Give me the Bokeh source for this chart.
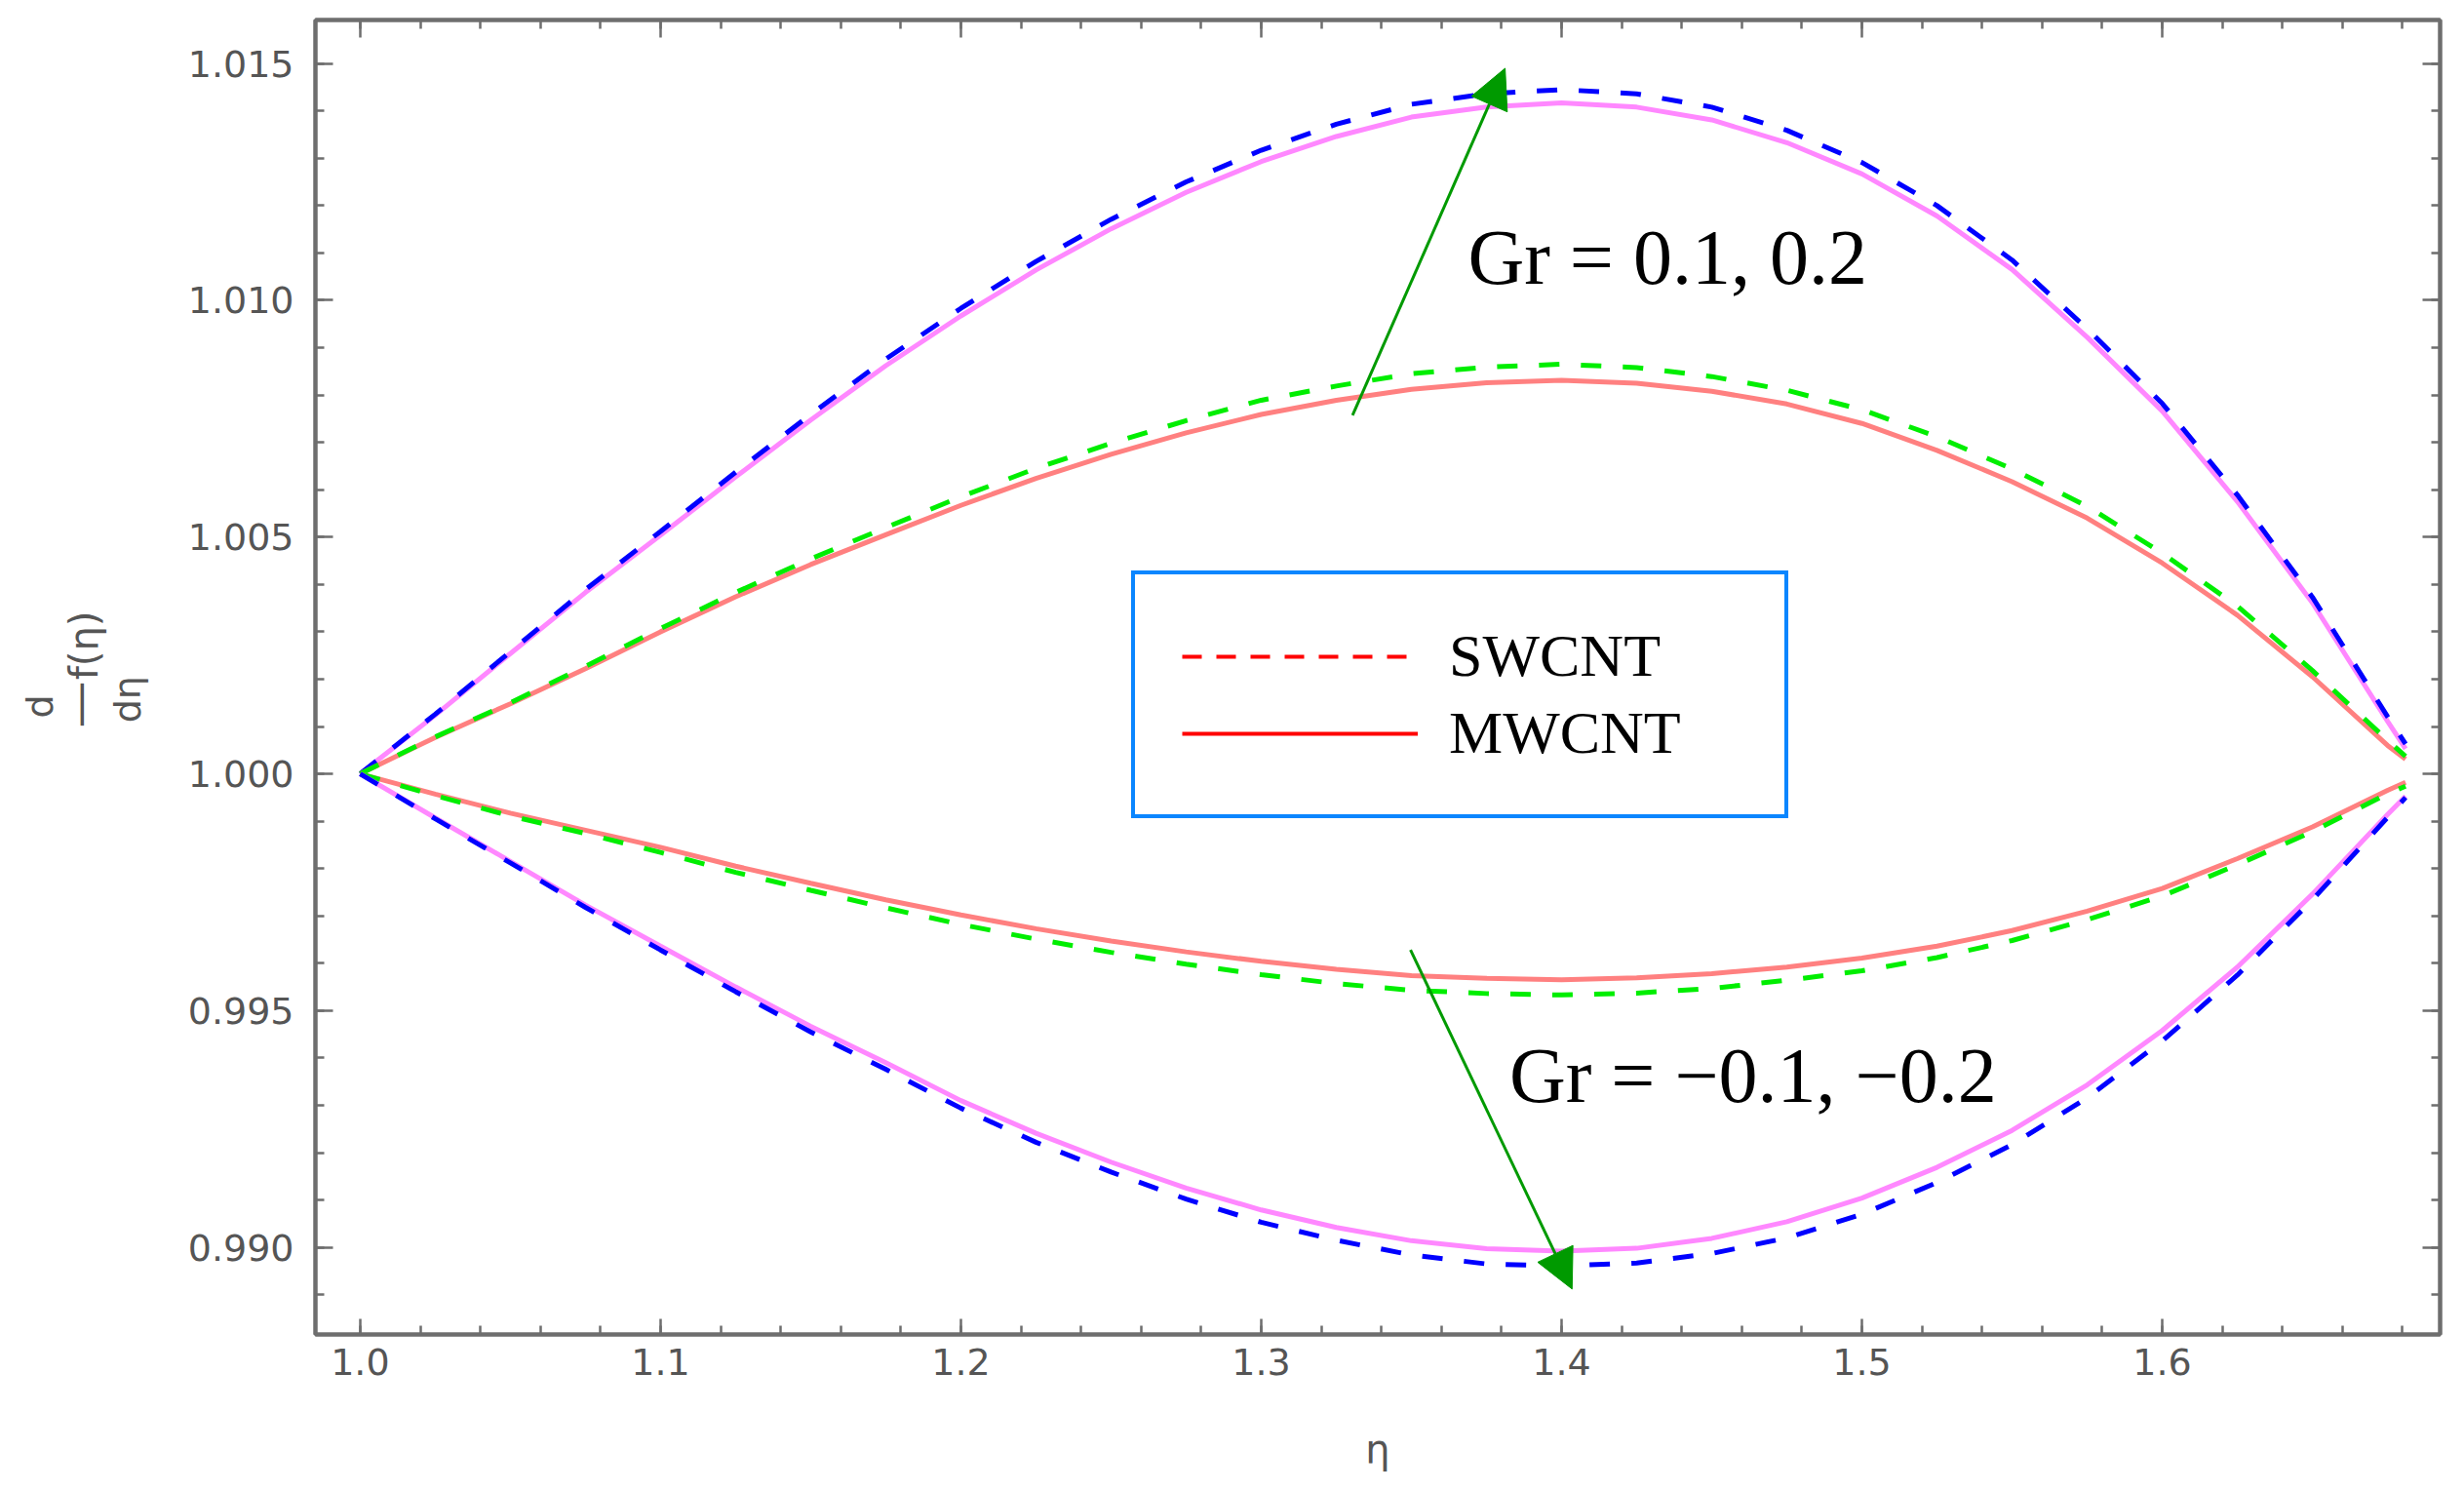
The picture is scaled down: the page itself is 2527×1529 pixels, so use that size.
from bokeh.plotting import figure
from bokeh.layouts import row
from bokeh.models import (Range1d, SingleIntervalTicker, PrintfTickFormatter, LinearAxis,
                          Label, Arrow, NormalHead, Legend, LegendItem, CustomJSTickFormatter)
from bokeh.embed import file_html
from bokeh.resources import INLINE

# ---------------- data ----------------
eta = [1.000, 1.025, 1.050, 1.075, 1.100, 1.125, 1.150, 1.175, 1.200, 1.225,
       1.250, 1.275, 1.300, 1.325, 1.350, 1.375, 1.400, 1.425, 1.450, 1.475,
       1.500, 1.525, 1.550, 1.575, 1.600, 1.625, 1.650, 1.675, 1.681]

# Gr = 0.2 (outer upper)
swcnt_gr_p02 = [1.00000, 1.00126, 1.00258, 1.00389, 1.00512, 1.00637, 1.00759, 1.00876, 1.00983, 1.01082,
                1.01171, 1.01250, 1.01317, 1.01372, 1.01414, 1.01436, 1.01445, 1.01436, 1.01408, 1.01359,
                1.01291, 1.01200, 1.01085, 1.00940, 1.00782, 1.00589, 1.00373, 1.00121, 1.00063]
mwcnt_gr_p02 = [1.00000, 1.00124, 1.00254, 1.00383, 1.00504, 1.00627, 1.00747, 1.00862, 1.00967, 1.01064,
                1.01151, 1.01228, 1.01293, 1.01346, 1.01387, 1.01408, 1.01417, 1.01408, 1.01381, 1.01333,
                1.01267, 1.01178, 1.01065, 1.00922, 1.00766, 1.00575, 1.00361, 1.00111, 1.00053]
# Gr = 0.1 (inner upper)
swcnt_gr_p01 = [1.00000, 1.00078, 1.00150, 1.00227, 1.00307, 1.00383, 1.00454, 1.00520, 1.00585, 1.00645,
                1.00698, 1.00746, 1.00789, 1.00819, 1.00845, 1.00859, 1.00865, 1.00858, 1.00839, 1.00810,
                1.00769, 1.00712, 1.00644, 1.00565, 1.00466, 1.00354, 1.00218, 1.00071, 1.00037]
mwcnt_gr_p01 = [1.00000, 1.00077, 1.00148, 1.00222, 1.00300, 1.00374, 1.00442, 1.00505, 1.00567, 1.00624,
                1.00675, 1.00720, 1.00759, 1.00789, 1.00812, 1.00826, 1.00831, 1.00825, 1.00808, 1.00781,
                1.00740, 1.00683, 1.00617, 1.00540, 1.00445, 1.00335, 1.00205, 1.00060, 1.00031]
# Gr = -0.1 (inner lower)
swcnt_gr_m01 = [1.00000, 0.99954, 0.99911, 0.99874, 0.99834, 0.99792, 0.99754, 0.99717, 0.99682, 0.99651,
                0.99623, 0.99598, 0.99576, 0.99557, 0.99543, 0.99536, 0.99533, 0.99537, 0.99547, 0.99564,
                0.99584, 0.99612, 0.99648, 0.99692, 0.99742, 0.99808, 0.99878, 0.99958, 0.99974]
mwcnt_gr_m01 = [1.00000, 0.99957, 0.99917, 0.99881, 0.99845, 0.99805, 0.99769, 0.99734, 0.99702, 0.99673,
                0.99647, 0.99624, 0.99604, 0.99587, 0.99574, 0.99568, 0.99565, 0.99569, 0.99578, 0.99592,
                0.99611, 0.99636, 0.99669, 0.99710, 0.99758, 0.99821, 0.99888, 0.99965, 0.99982]
# Gr = -0.2 (outer lower)
swcnt_gr_m02 = [1.00000, 0.99905, 0.99812, 0.99718, 0.99628, 0.99540, 0.99455, 0.99376, 0.99294, 0.99222,
                0.99159, 0.99102, 0.99053, 0.99015, 0.98984, 0.98965, 0.98961, 0.98967, 0.98987, 0.99020,
                0.99070, 0.99137, 0.99217, 0.99316, 0.99436, 0.99575, 0.99734, 0.99908, 0.99950]
mwcnt_gr_m02 = [1.00000, 0.99907, 0.99815, 0.99723, 0.99636, 0.99550, 0.99467, 0.99390, 0.99310, 0.99241,
                0.99180, 0.99125, 0.99079, 0.99042, 0.99014, 0.98997, 0.98992, 0.98998, 0.99019, 0.99054,
                0.99104, 0.99169, 0.99247, 0.99343, 0.99458, 0.99592, 0.99746, 0.99914, 0.99953]

legend_labels = ["SWCNT", "MWCNT"]
annot_texts = ["Gr = 0.1, 0.2", "Gr = \u22120.1, \u22120.2"]
annot_x = [1.3688, 1.3826]
annot_y = [1.01090, 0.99362]
arrow_start = [(1.3304, 1.00757), (1.3497, 0.99628)]
arrow_end = [(1.3812, 1.01490), (1.4035, 0.98912)]

# ---------------- styling ----------------
FRAME = "#6e6e6e"
TICKTXT = "#555555"
BLUE = "#0000ff"
MAGENTA = "#ff88ff"
GREEN = "#00ee00"
SALMON = "#ff8080"
ARROW = "#009a00"

LEFT_W = 180
p = figure(width=2511 - LEFT_W, height=1513,
           x_range=Range1d(0.9851, 1.6925), y_range=Range1d(0.98816, 1.01592),
           output_backend="svg", toolbar_location=None,
           min_border_left=323 - LEFT_W, min_border_right=9, min_border_top=20, min_border_bottom=145,
           background_fill_color="white", border_fill_color="white")
p.xgrid.grid_line_color = None
p.ygrid.grid_line_color = None
p.outline_line_color = FRAME
p.outline_line_width = 4
p.outline_line_alpha = 1

p.xaxis.ticker = SingleIntervalTicker(interval=0.1, num_minor_ticks=5)
p.yaxis.ticker = SingleIntervalTicker(interval=0.005, num_minor_ticks=5)
p.xaxis.formatter = PrintfTickFormatter(format="%.1f")
p.yaxis.formatter = PrintfTickFormatter(format="%.3f")

def style_axis(ax, major_len, minor_len):
    ax.axis_line_color = FRAME
    ax.axis_line_width = 4
    ax.major_tick_in = major_len
    ax.major_tick_out = 0
    ax.minor_tick_in = minor_len
    ax.minor_tick_out = 0
    ax.major_tick_line_color = FRAME
    ax.minor_tick_line_color = FRAME
    ax.major_tick_line_width = 2.5
    ax.minor_tick_line_width = 2.5
    ax.major_label_text_font = "DejaVu Sans"
    ax.major_label_text_font_size = "38px"
    ax.major_label_text_color = TICKTXT

style_axis(p.xaxis[0], 16, 9)
style_axis(p.yaxis[0], 18, 9)
p.xaxis.major_label_standoff = 14
p.yaxis.major_label_standoff = 22
p.xaxis.axis_label = "\u03b7"
p.xaxis.axis_label_text_font = "DejaVu Sans"
p.xaxis.axis_label_text_font_size = "40px"
p.xaxis.axis_label_text_font_style = "normal"
p.xaxis.axis_label_text_color = TICKTXT
p.xaxis.axis_label_standoff = 50

blank = CustomJSTickFormatter(code="return ''")
top_axis = LinearAxis(ticker=SingleIntervalTicker(interval=0.1, num_minor_ticks=5), formatter=blank)
right_axis = LinearAxis(ticker=SingleIntervalTicker(interval=0.005, num_minor_ticks=5), formatter=blank)
for ax in (top_axis, right_axis):
    style_axis(ax, 18, 9)
    ax.major_label_standoff = 0
    ax.major_label_text_font_size = "1px"
p.add_layout(top_axis, "above")
p.add_layout(right_axis, "right")

# ---------------- curves ----------------
for sw, mw, dcol, scol in [(swcnt_gr_p02, mwcnt_gr_p02, BLUE, MAGENTA),
                           (swcnt_gr_p01, mwcnt_gr_p01, GREEN, SALMON),
                           (swcnt_gr_m01, mwcnt_gr_m01, GREEN, SALMON),
                           (swcnt_gr_m02, mwcnt_gr_m02, BLUE, MAGENTA)]:
    p.line(eta, mw, line_color=scol, line_width=5)
    p.line(eta, sw, line_color=dcol, line_width=5, line_dash="21 22")

# ---------------- legend (sample renderers hold a single point, so they draw nothing) ----------------
leg_sw = p.line(eta[:1], swcnt_gr_p02[:1], line_color="#ff0000", line_width=4, line_dash="20 15")
leg_mw = p.line(eta[:1], mwcnt_gr_p02[:1], line_color="#ff0000", line_width=4)
legend = Legend(items=[LegendItem(label=legend_labels[0], renderers=[leg_sw]),
                       LegendItem(label=legend_labels[1], renderers=[leg_mw])],
                location=(837, 529), orientation="vertical",
                border_line_color="#0a86ff", border_line_width=4, border_line_alpha=1,
                background_fill_color="white", background_fill_alpha=1,
                label_text_font="Liberation Serif", label_text_font_size="62px",
                label_text_color="black", glyph_width=242, glyph_height=40,
                label_standoff=32, padding=48, spacing=8, margin=0, label_width=296)
p.add_layout(legend, "center")

# ---------------- annotations ----------------
for t, x, y in zip(annot_texts, annot_x, annot_y):
    p.add_layout(Label(x=x, y=y, text=t, text_font="Liberation Serif", text_font_size="80px",
                       text_color="black", text_baseline="middle", text_align="left"))

for (xs, ys), (xe, ye) in zip(arrow_start, arrow_end):
    p.add_layout(Arrow(x_start=xs, y_start=ys, x_end=xe, y_end=ye, line_color=ARROW, line_width=3,
                       end=NormalHead(size=40, fill_color=ARROW, line_color=ARROW, line_width=1)))

# ---------------- rotated y label  d/dη f(η)  in a narrow side panel ----------------
side = figure(width=LEFT_W, height=1513, x_range=Range1d(0, LEFT_W), y_range=Range1d(0, 1513),
              output_backend="svg", toolbar_location=None, x_axis_type=None, y_axis_type=None,
              min_border_left=0, min_border_right=0, min_border_top=0, min_border_bottom=0,
              outline_line_color=None, background_fill_color="white", border_fill_color="white")
ylab_parts = [("d", 40, 723, "38px"),
              ("\u2014", 80, 725, "48px"),
              ("d\u03b7", 130, 731, "38px"),
              ("f(\u03b7)", 85, 793, "40px")]
for t, x, y, fs in ylab_parts:
    side.add_layout(Label(x=x, y=y, text=t, angle=1.5707963, text_font="DejaVu Sans", text_font_size=fs,
                          text_color=TICKTXT, text_align="center", text_baseline="middle"))

layout = row(side, p, spacing=0)
open("out.html", "w").write(file_html(layout, INLINE))
